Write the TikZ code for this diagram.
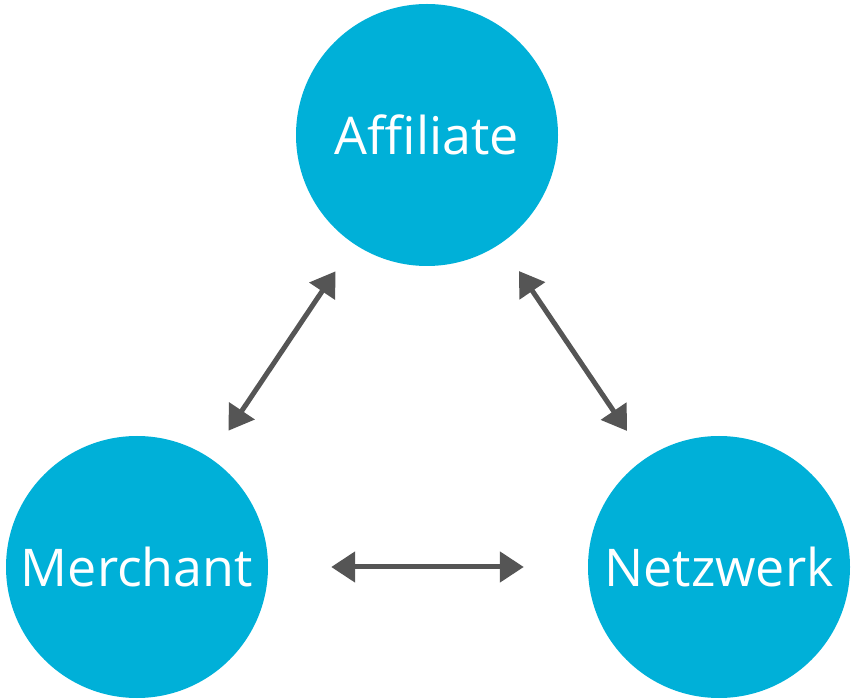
\documentclass[tikz,border=0pt]{standalone}
\usepackage{fontspec}
\setmainfont{Open Sans}
\usetikzlibrary{arrows.meta}
\definecolor{bubble}{HTML}{00B0D8}
\definecolor{arrowgray}{HTML}{555555}
\tikzset{
  bubble/.style={circle, fill=bubble, draw=none, minimum size=262pt, inner sep=0pt,
    text=white, font=\fontsize{52}{56}\selectfont},
  link/.style={draw=arrowgray, line width=5pt,
    {Triangle[length=24pt,width=30pt]}-{Triangle[length=24pt,width=30pt]}}
}
\begin{document}
\begin{tikzpicture}[x=1pt,y=-1pt]
\useasboundingbox (0,0) rectangle (855,700);
\node[bubble] (aff) at (427,135) {Affiliate};
\node[bubble] (mer) at (137,567) {Merchant};
\node[bubble] (net) at (719,567) {Netzwerk};
\draw[link, shorten <=33pt, shorten >=33pt] (aff) -- (mer);
\draw[link, shorten <=33pt, shorten >=33pt] (aff) -- (net);
\draw[link, shorten <=63pt, shorten >=64pt] (mer) -- (net);
\end{tikzpicture}
\end{document}
